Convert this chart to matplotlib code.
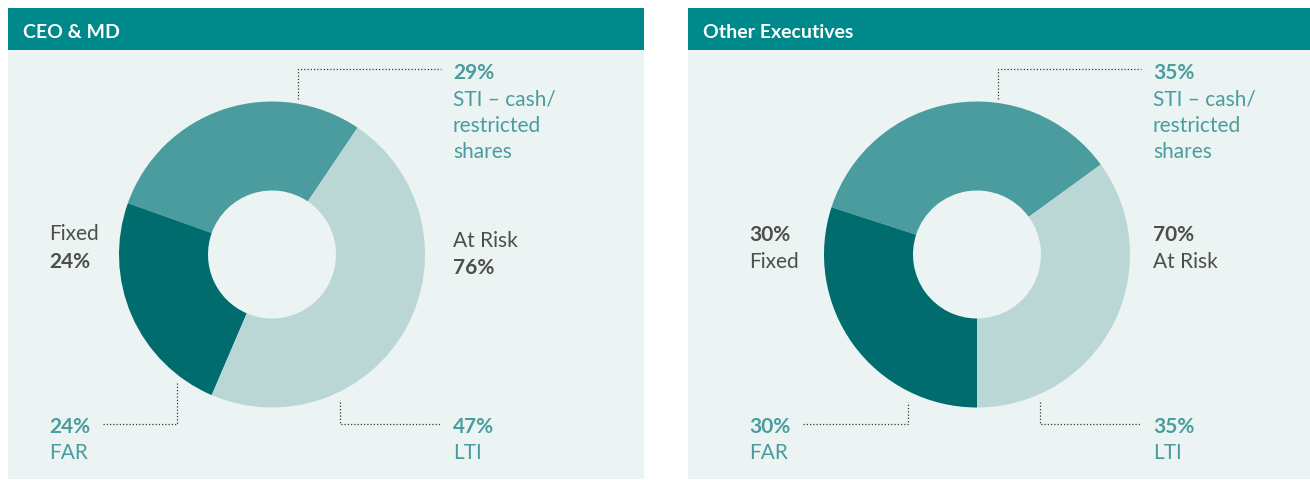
import matplotlib.pyplot as plt
from matplotlib.patches import Rectangle

plt.rcParams['font.family'] = ['Lato', 'DejaVu Sans']

# data
titles = ['CEO & MD', 'Other Executives']
parts = ['STI', 'FAR', 'LTI']
ceo_vals = [29, 24, 47]
exec_vals = [35, 30, 35]
fixed_pct = [24, 30]
risk_pct = [76, 70]
sti_label = ['STI \u2013 cash/', 'restricted', 'shares']

HEADER = '#00898a'
BG = '#ebf4f3'
COLS = ['#4a9c9f', '#006c6e', '#bad7d6']
TEAL_TXT = '#4a9c9f'
DARK_TXT = '#4d4d4d'
LEAD = '#3a3a3a'
FS = 15

W, H = 1310, 481
fig = plt.figure(figsize=(W / 100, H / 100), dpi=100)
ax = fig.add_axes([0, 0, 1, 1])


def Y(py):
    # pixel row -> data y (y up)
    return H - py


def leader(pts, off):
    xs = [p[0] + off for p in pts]
    ys = [Y(p[1]) for p in pts]
    ax.plot(xs, ys, color=LEAD, lw=0.9, linestyle=(0, (1, 1.6)),
            solid_capstyle='butt', zorder=3)


def txt(x, py, s, color, bold=False):
    ax.text(x, Y(py), s, color=color, fontsize=FS, va='center_baseline',
            ha='left', fontweight='bold' if bold else 'normal', zorder=4)


panels = [
    dict(x0=8, cx=272, start=56, vals=ceo_vals, off=0),
    dict(x0=688, cx=977, start=36, vals=exec_vals, off=700),
]

for i, p in enumerate(panels):
    x0, off = p['x0'], p['off']
    ax.add_patch(Rectangle((x0, Y(480)), 636, 429.5, color=BG, lw=0, zorder=0))
    ax.add_patch(Rectangle((x0, Y(51)), 636, 42, color=HEADER, lw=0, zorder=1))
    ax.text(x0 + 15, Y(31), titles[i], color='white', fontsize=14,
            fontweight='bold', va='center_baseline', ha='left', zorder=4)

    ax.pie(p['vals'], colors=COLS, startangle=p['start'], counterclock=True,
           center=(p['cx'], Y(255.5)), radius=153, frame=True,
           wedgeprops=dict(width=153 - 64, linewidth=0))

    vals = p['vals']
    xl, xr = 49 + off, 453 + off
    # STI label top right
    txt(xr, 71, f'{vals[0]}%', TEAL_TXT, bold=True)
    for k, line in enumerate(sti_label):
        txt(xr, 97.5 + 26.5 * k, line, TEAL_TXT)
    # LTI label bottom right
    txt(xr, 425, f'{vals[2]}%', TEAL_TXT, bold=True)
    txt(xr, 451, 'LTI', TEAL_TXT)
    # FAR label bottom left
    txt(xl, 425, f'{vals[1]}%', TEAL_TXT, bold=True)
    txt(xl, 451, 'FAR', TEAL_TXT)

    if i == 0:
        txt(xl, 232, 'Fixed', DARK_TXT)
        txt(xl, 260, f'{fixed_pct[0]}%', DARK_TXT, bold=True)
        txt(xr, 239, 'At Risk', DARK_TXT)
        txt(xr, 266, f'{risk_pct[0]}%', DARK_TXT, bold=True)
        leader([(298, 100), (298, 70), (441, 70)], off)
        leader([(103, 425), (177, 425), (177, 383)], off)
        leader([(340, 403), (340, 425), (441, 425)], off)
    else:
        txt(xl, 233, f'{fixed_pct[1]}%', DARK_TXT, bold=True)
        txt(xl, 260, 'Fixed', DARK_TXT)
        txt(xr, 233, f'{risk_pct[1]}%', DARK_TXT, bold=True)
        txt(xr, 260, 'At Risk', DARK_TXT)
        leader([(298, 100), (298, 70), (441, 70)], off)
        leader([(103, 425), (208, 425), (208, 403)], off)
        leader([(340, 403), (340, 425), (441, 425)], off)

ax.set_xlim(0, W)
ax.set_ylim(0, H)
ax.set_aspect('equal')
ax.axis('off')
fig.savefig('out.png', dpi=100, facecolor='white')
